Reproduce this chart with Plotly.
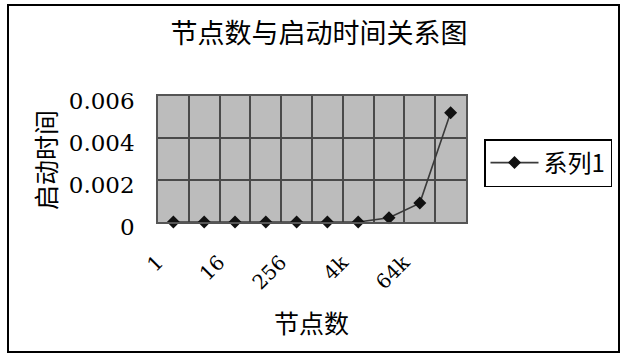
import plotly.graph_objects as go

categories = ["1", "4", "16", "64", "256", "1k", "4k", "16k", "64k", "256k"]
start_time = [0, 0, 0, 0, 0, 0, 0, 0.0002, 0.0009, 0.0052]
series_name = "系列1"
title_text = "节点数与启动时间关系图"
x_title = "节点数"
y_title = "启动时间"
y_ticks = [0, 0.002, 0.004, 0.006]
y_ticktext = ["0", "0.002", "0.004", "0.006"]

idx = list(range(len(categories)))
cjk = "Noto Sans CJK SC"
serif = "DejaVu Serif, Liberation Serif, serif"

fig = go.Figure()
fig.add_trace(go.Scatter(
    x=idx, y=start_time, name=series_name, mode="lines+markers",
    line=dict(color="#3a3a3a", width=1.6),
    marker=dict(symbol="diamond", size=10, color="#111111"),
    cliponaxis=False,
))

fig.update_layout(
    width=620, height=361,
    margin=dict(l=158, r=154, t=96, b=139, autoexpand=False),
    paper_bgcolor="white", plot_bgcolor="#bcbcbc",
    title=dict(text=title_text, x=319/620, xanchor="center", y=1-34/361, yanchor="middle",
               font=dict(family=cjk, size=27, color="black")),
    showlegend=True,
    legend=dict(x=(484-158)/308, xanchor="left", y=(222-163)/126, yanchor="middle",
                bordercolor="black", borderwidth=1.5, bgcolor="white",
                font=dict(family=cjk, size=24, color="black"), itemwidth=48),
    xaxis=dict(range=[-0.5, len(categories)-0.5], tickvals=idx[::2], ticktext=categories[::2],
               tickangle=-45, showgrid=False, zeroline=False, automargin=False,
               showline=True, mirror=True, linecolor="#555555", linewidth=1.5,
               ticklabelstandoff=19, ticklabelshift=-16,
               tickfont=dict(family=serif, size=20, color="black"),
               minor=dict(tickvals=[i+0.5 for i in idx[:-1]], showgrid=True,
                          gridcolor="#4a4a4a", gridwidth=1.5)),
    yaxis=dict(range=[0, 0.006], tickvals=y_ticks, ticktext=y_ticktext,
               showgrid=True, gridcolor="#4a4a4a", gridwidth=1.5, zeroline=False, automargin=False,
               showline=True, mirror=True, linecolor="#555555", linewidth=1.5,
               ticklabelstandoff=17, ticklabelshift=5,
               tickfont=dict(family=serif, size=23, color="black")),
    annotations=[
        dict(text=y_title, xref="paper", yref="paper", x=(45-158)/308, y=(222-160)/126,
             xanchor="center", yanchor="middle", textangle=-90, showarrow=False,
             font=dict(family=cjk, size=25, color="black")),
        dict(text=x_title, xref="paper", yref="paper", x=(311-158)/308, y=(222-322)/126,
             xanchor="center", yanchor="middle", showarrow=False,
             font=dict(family=cjk, size=25, color="black")),
    ],
    shapes=[dict(type="rect", xref="paper", yref="paper",
                 x0=(8-158)/308, x1=(619-158)/308, y0=(222-352)/126, y1=(222-5)/126,
                 line=dict(color="black", width=2), layer="below")],
)

fig.write_html("out.html", config={"displayModeBar": False},
               post_script="document.body.style.margin='0';document.body.style.padding='0';")
